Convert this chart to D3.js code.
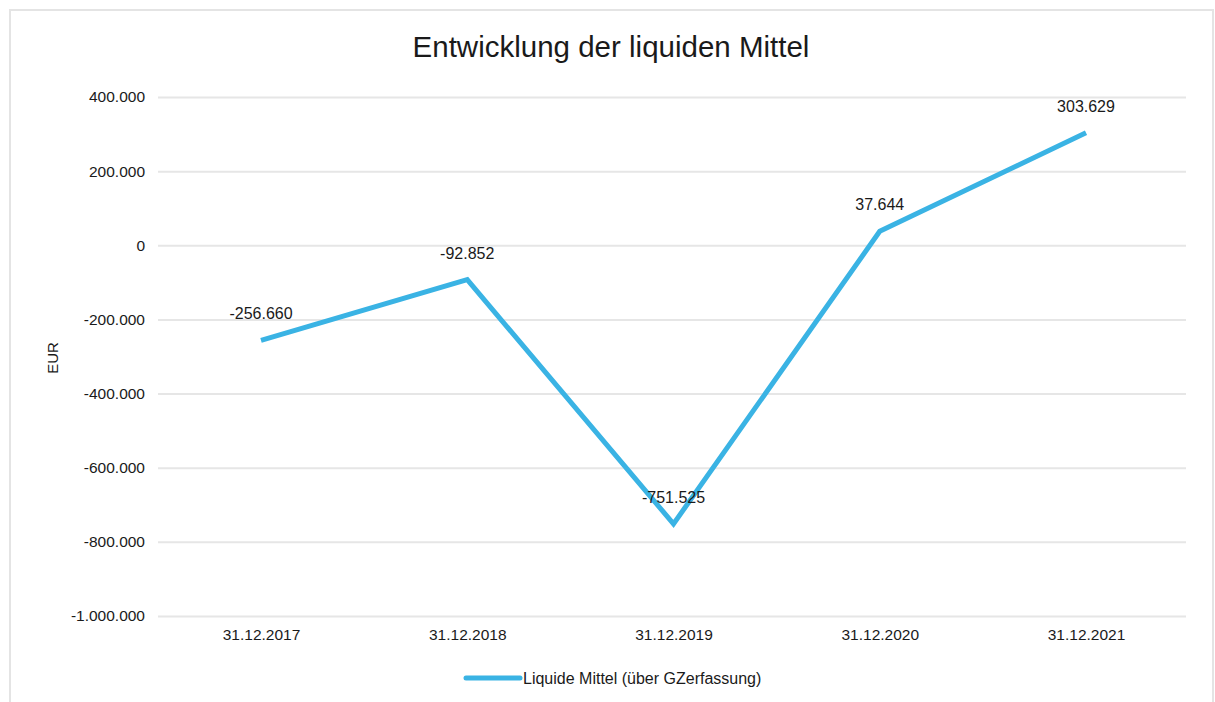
<!DOCTYPE html>
<html><head><meta charset="utf-8">
<script src="https://cdn.jsdelivr.net/npm/d3@7"></script>
<style>body{margin:0;background:#fff;font-family:"Liberation Sans",Arial,sans-serif;}</style>
</head><body>
<svg id="c" width="1215" height="702"></svg>
<script>
const categories = ["31.12.2017","31.12.2018","31.12.2019","31.12.2020","31.12.2021"];
const values = [-256660, -92852, -751525, 37644, 303629];
const valueLabels = ["-256.660","-92.852","-751.525","37.644","303.629"];
const yTicks = [400000,200000,0,-200000,-400000,-600000,-800000,-1000000];
const seriesName = "Liquide Mittel (über GZerfassung)";

const svg = d3.select("#c");
const fmt = v => v === 0 ? "0" : d3.format(",")(v).replace(/,/g, ".").replace(/\u2212/g, "-");

svg.append("rect").attr("x",10).attr("y",10).attr("width",1203).attr("height",700)
  .attr("fill","none").attr("stroke","#e4e4e4").attr("stroke-width",2);

const x = d3.scalePoint().domain(categories).range([261,1086]);
const y = d3.scaleLinear().domain([-1000000,400000]).range([616,97]);

svg.append("text").attr("x",611).attr("y",57).attr("text-anchor","middle")
  .attr("font-size",29.5).attr("fill","#1a1a1a").text("Entwicklung der liquiden Mittel");

const yAxis = d3.axisLeft(y).tickValues(yTicks).tickFormat(fmt).tickSize(-1028).tickPadding(13);
const gy = svg.append("g").attr("transform","translate(158,0)").call(yAxis);
gy.select(".domain").remove();
gy.selectAll(".tick line").attr("stroke","#e6e6e6").attr("stroke-width",2);
gy.selectAll(".tick text").attr("font-size",15.5).attr("fill","#1a1a1a").attr("font-family","Liberation Sans, Arial, sans-serif");

const xAxis = d3.axisBottom(x).tickSize(0).tickPadding(13);
const gx = svg.append("g").attr("transform","translate(0,616)").call(xAxis);
gx.select(".domain").remove();
gx.selectAll(".tick text").attr("font-size",15.5).attr("fill","#1a1a1a").attr("font-family","Liberation Sans, Arial, sans-serif");

svg.append("text").attr("transform","translate(58,358) rotate(-90)").attr("text-anchor","middle")
  .attr("font-size",15).attr("fill","#1a1a1a").text("EUR");

const line = d3.line().x((d,i)=>x(categories[i])).y(d=>y(d));
svg.append("path").datum(values).attr("d",line).attr("fill","none")
  .attr("stroke","#3ab3e4").attr("stroke-width",5).attr("stroke-linejoin","miter");

svg.selectAll(".lbl").data(values).enter().append("text")
  .attr("x",(d,i)=>x(categories[i])).attr("y",d=>y(d)-21)
  .attr("text-anchor","middle").attr("font-size",16).attr("fill","#1a1a1a")
  .text((d,i)=>valueLabels[i]);

svg.append("line").attr("x1",466).attr("x2",520).attr("y1",678).attr("y2",678)
  .attr("stroke","#3ab3e4").attr("stroke-width",5).attr("stroke-linecap","round");
svg.append("text").attr("x",523).attr("y",684).attr("font-size",16).attr("fill","#1a1a1a").text(seriesName);
</script>
</body></html>
